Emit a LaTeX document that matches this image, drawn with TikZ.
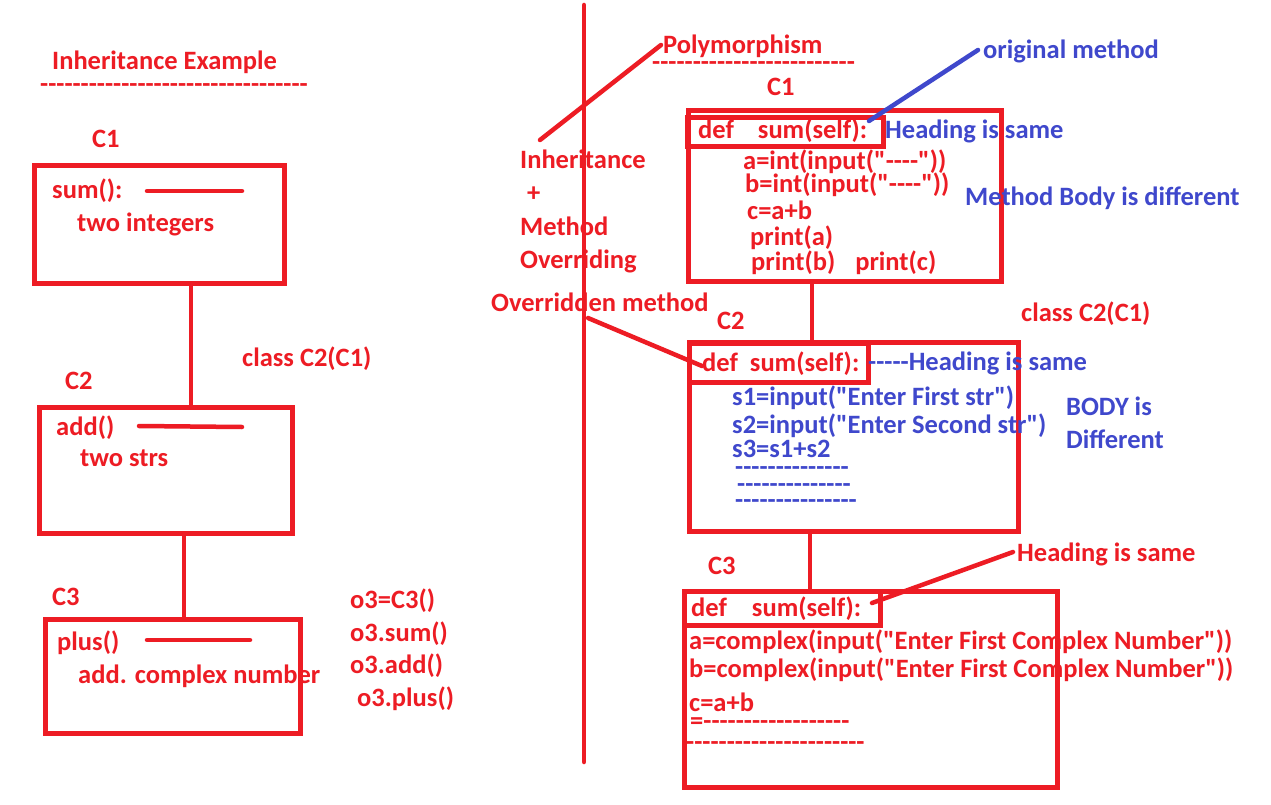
\documentclass[tikz,border=0pt]{standalone}
\usepackage{fontspec}
\setmainfont{Carlito}[Ligatures=TeXOff]
\usetikzlibrary{positioning}
\definecolor{pred}{RGB}{237,28,36}
\definecolor{pblue}{RGB}{63,72,204}

\begin{document}
\begin{tikzpicture}[x=1pt,y=-1pt]

\tikzstyle{txt}=[inner sep=0pt, anchor=west, text=pred,
    font=\bfseries\fontsize{26.5}{28}\selectfont,
    text height=20pt, text depth=2pt]
\tikzstyle{btxt}=[txt, text=pblue]
\tikzstyle{hyph}=[txt, anchor=base west, text height=7pt, text depth=0pt]
\tikzstyle{bhyph}=[hyph, text=pblue]
\tikzstyle{cls}=[draw=pred, line width=5pt, anchor=north west, inner sep=0pt]
\tikzstyle{wire}=[draw=pred, line width=4.5pt, line cap=round]
\tikzstyle{bwire}=[draw=pblue, line width=4.5pt, line cap=round]

\fill[white] (0,0) rectangle (1271,805);
\useasboundingbox (0,0) rectangle (1271,805);

% left half: inheritance
\node[txt] (ttl) at (52,61) {Inheritance Example};
\node[hyph] (ttldash) at (40,93) {---------------------------------};

\node[txt] (lc1) at (92,139) {C1};
\node[cls, minimum width=250pt, minimum height=118pt] (lbox1) at (32,163) {};
\node[txt] (lsum) at (52,190) {sum():};
\node[txt] (lint) at (77,222) {two integers};
\coordinate (lsa) at (147,191);
\coordinate (lsb) at (242,191);
\draw[wire] (lsa) -- (lsb);

\node[txt] (lcls) at (242,357) {class C2(C1)};
\node[txt] (lc2) at (65,380) {C2};
\node[cls, minimum width=253pt, minimum height=126pt] (lbox2) at (37,405) {};
\node[txt] (ladd) at (56,426) {add()};
\node[txt] (lstr) at (80,457) {two strs};
\coordinate (laa) at (139,426);
\coordinate (lab) at (242,427);
\draw[wire] (laa) -- (lab);

\node[txt] (lc3) at (52,596) {C3};
\node[cls, minimum width=255pt, minimum height=114pt] (lbox3) at (43,617) {};
\node[txt] (lplus) at (57,641) {plus()};
\node[txt] (lcpx) at (78,674) {add. complex number};
\coordinate (lpa) at (147,640);
\coordinate (lpb) at (250,640);
\draw[wire] (lpa) -- (lpb);

\node[txt] (obj) at (350,599) {o3=C3()};
\node[txt] (osum) at (350,632) {o3.sum()};
\node[txt] (oadd) at (350,664) {o3.add()};
\node[txt] (oplus) at (357,697) {o3.plus()};

\coordinate (j12) at (191,0);
\coordinate (j23) at (184,0);
\draw[wire, line cap=butt] (lbox1.south -| j12) -- (lbox2.north -| j12);
\draw[wire, line cap=butt] (lbox2.south -| j23) -- (lbox3.north -| j23);

% divider
\coordinate (mtop) at (584,5);
\coordinate (mbot) at (584,762);
\draw[wire] (mtop) -- (mbot);

% right half: polymorphism
\node[txt] (poly) at (663,45) {Polymorphism};
\node[hyph] (polydash) at (652,71) {-------------------------};
\node[txt] (inh) at (520,160) {Inheritance};
\node[txt] (plus) at (527,193) {+};
\node[txt] (meth) at (520,226) {Method};
\node[txt] (ovr) at (520,259) {Overriding};
\coordinate (pdiag) at (540,140);
\draw[wire] (pdiag) -- ([xshift=-2pt]poly.west);

\node[txt] (rc1) at (767,87) {C1};
\node[cls, minimum width=313pt, minimum height=171pt] (rbox1) at (686,108) {};
\node[cls, minimum width=196pt, minimum height=29pt] (rhead1) at (685,115) {};
\node[txt] (rdef1) at (698,130) {def\hspace{24pt}sum(self):};
\node[btxt] (same1) at (885,130) {Heading is same};
\node[btxt] (orig) at (983,50) {original method};
\coordinate (origtip) at (869,121);
\draw[bwire] (origtip) -- ([xshift=-5pt]orig.west);
\node[txt] (ra) at (743,161) {a=int(input("----"))};
\node[txt] (rb) at (745,184) {b=int(input("----"))};
\node[txt] (rc) at (747,210) {c=a+b};
\node[txt] (rpa) at (750,236) {print(a)};
\node[txt] (rpb) at (751,261) {print(b)\hspace{20pt}print(c)};
\node[btxt] (diff1) at (965,196) {Method Body is different};

\node[txt] (rcls) at (1021,312) {class C2(C1)};
\node[txt] (ovd) at (491,302) {Overridden method};
\node[txt] (rc2) at (717,320) {C2};
\node[cls, minimum width=329pt, minimum height=189pt] (rbox2) at (687,340) {};
\node[cls, minimum width=179pt, minimum height=39pt] (rhead2) at (687,341) {};
\node[txt] (rdef2) at (702,362) {def\hspace{12pt}sum(self):};
\coordinate (ovdtip) at (588,318);
\draw[wire] (ovdtip) -- ([yshift=-4pt]rdef2.west);
\node[btxt] (same2) at (868,361) {-----Heading is same};
\node[btxt] (s1) at (732,396) {s1=input("Enter First str")};
\node[btxt] (s2) at (732,424) {s2=input("Enter Second str")};
\node[btxt] (s3) at (732,448) {s3=s1+s2};
\node[bhyph] (bd1) at (735,475) {--------------};
\node[bhyph] (bd2) at (737,492) {--------------};
\node[bhyph] (bd3) at (735,508) {---------------};
\node[btxt] (body) at (1066,406) {BODY is};
\node[btxt] (diff2) at (1066,439) {Different};

\node[txt] (same3) at (1017,552) {Heading is same};
\node[txt] (rc3) at (708,565) {C3};
\node[cls, minimum width=373pt, minimum height=196pt] (rbox3) at (682,589) {};
\node[cls, minimum width=196pt, minimum height=34pt] (rhead3) at (682,589) {};
\node[txt] (rdef3) at (691,607) {def\hspace{25pt}sum(self):};
\coordinate (h3tip) at (872,603);
\draw[wire] (h3tip) -- ([xshift=-4pt]same3.west);
\node[txt] (ca) at (689,640) {a=complex(input("Enter First Complex Number"))};
\node[txt] (cb) at (689,668) {b=complex(input("Enter First Complex Number"))};
\node[txt] (cc) at (689,702) {c=a+b};
\node[hyph] (cd1) at (690,729) {=------------------};
\node[hyph] (cd2) at (686,750) {----------------------};

\coordinate (k12) at (812,0);
\coordinate (k23) at (810,0);
\draw[wire, line cap=butt] (rbox1.south -| k12) -- (rbox2.north -| k12);
\draw[wire, line cap=butt] (rbox2.south -| k23) -- (rbox3.north -| k23);

\end{tikzpicture}
\end{document}
